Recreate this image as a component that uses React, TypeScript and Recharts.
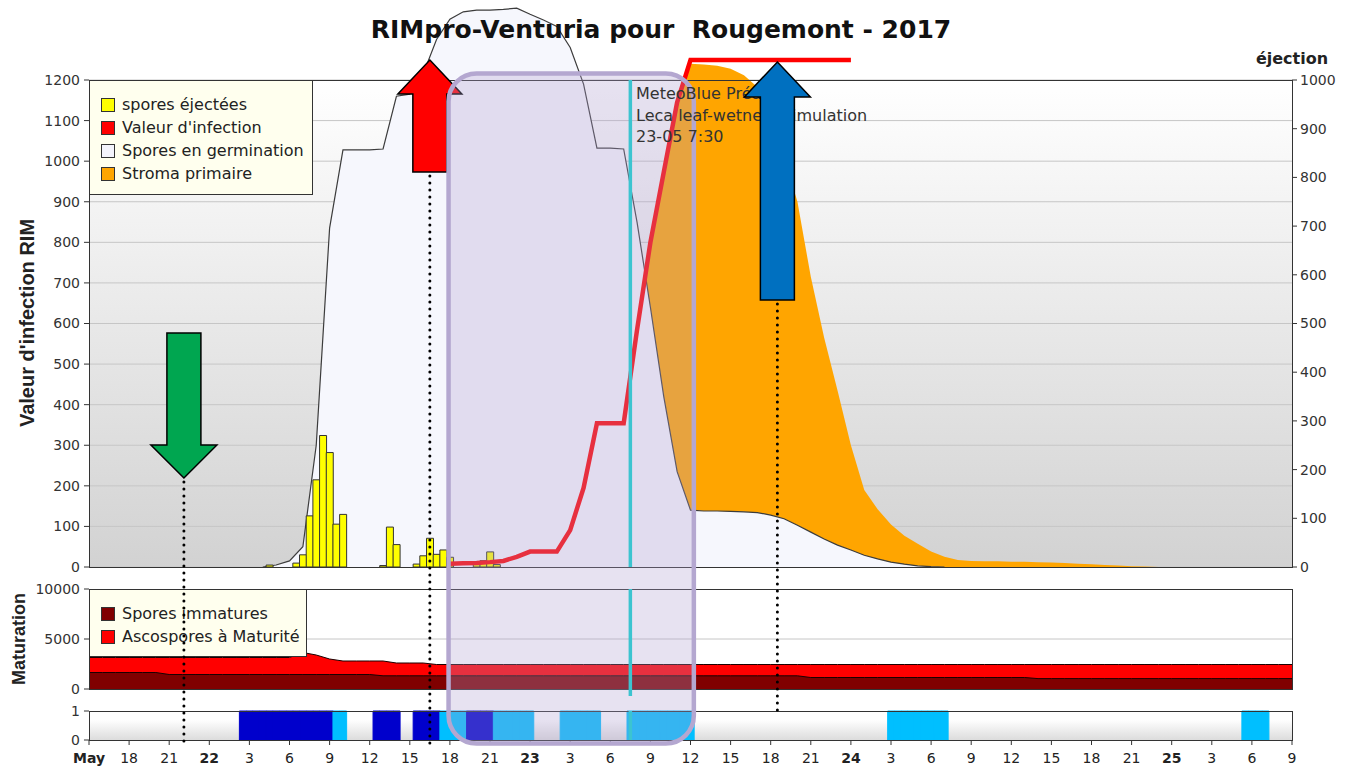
import React from "react";
import {
  ComposedChart,
  Area,
  Bar,
  Line,
  Cell,
  XAxis,
  YAxis,
  CartesianGrid,
  ReferenceLine,
} from "recharts";

const FONT = "DejaVu Sans, Verdana, sans-serif";
const BOLD_FONT = "Liberation Sans, Arial, sans-serif";

// time axis: hours counted from 21 May 15:00
const tickHours = [0, 3, 6, 9, 12, 15, 18, 21, 24, 27, 30, 33, 36, 39, 42, 45, 48, 51, 54, 57, 60, 63, 66, 69, 72, 75, 78, 81, 84, 87, 90];
const tickLabels = ["May", "18", "21", "22", "3", "6", "9", "12", "15", "18", "21", "23", "3", "6", "9", "12", "15", "18", "21", "24", "3", "6", "9", "12", "15", "18", "21", "25", "3", "6", "9"];
const dayLabels = ["May", "22", "23", "24", "25"];

const rimTicks = [0, 100, 200, 300, 400, 500, 600, 700, 800, 900, 1000, 1100, 1200];
const ejectionTicks = [0, 100, 200, 300, 400, 500, 600, 700, 800, 900, 1000];
const maturationTicks = [0, 5000, 10000];
const wetTicks = [0, 1];

// hourly values, index = hour
const germination = [
  null, null, null, null, null, null, null, null, null, null,
  null, null, null, 0, 5, 15, 50, 300, 835, 1028,
  1028, 1028, 1030, 1160, 1165, 1215, 1300, 1350, 1368, 1372,
  1372, 1374, 1377, 1362, 1348, 1332, 1280, 1190, 1032, 1032,
  1030, 850, 640, 420, 235, 140, 138, 138, 137, 136,
  134, 128, 119, 103, 86, 69, 54, 42, 29, 20,
  12, 7, 3, 1, 0, null, null, null, null, null,
  null, null, null, null, null, null, null, null, null, null,
  null, null, null, null, null, null, null, null, null, null,
  null,
];

const stromaPrimaire = [
  null, null, null, null, null, null, null, null, null, null,
  null, null, null, null, null, null, null, null, null, null,
  null, null, null, null, null, null, null, null, null, null,
  null, null, null, null, null, null, null, null, null, null,
  0, 560, 806, 975, 1145, 1240, 1238, 1235, 1228, 1212,
  1183, 1110, 1010, 900, 715, 565, 435, 300, 190, 142,
  105, 77, 57, 38, 25, 17, 15, 14, 14, 13,
  13, 12, 11, 10, 8, 7, 5, 4, 2, 1,
  0, null, null, null, null, null, null, null, null, null,
  null,
];

const valeurInfection = [
  null, null, null, null, null, null, null, null, null, null,
  null, null, null, null, null, null, null, null, null, null,
  null, null, null, null, null, null, null, 8, 9, 10,
  12, 15, 25, 38, 38, 38, 91, 195, 354, 354,
  354, 584, 800, 973, 1145, 1249, 1249, 1249, 1249, 1249,
  1249, 1249, 1249, 1249, 1249, 1249, 1249, 1249, null, null,
  null, null, null, null, null, null, null, null, null, null,
  null, null, null, null, null, null, null, null, null, null,
  null, null, null, null, null, null, null, null, null, null,
  null,
];

const sporesImmatures = [
  1650, 1650, 1650, 1650, 1650, 1650, 1450, 1450, 1450, 1450,
  1450, 1450, 1450, 1450, 1450, 1450, 1450, 1450, 1450, 1450,
  1450, 1450, 1320, 1320, 1320, 1320, 1320, 1320, 1320, 1320,
  1320, 1320, 1320, 1320, 1320, 1320, 1320, 1320, 1320, 1320,
  1320, 1320, 1320, 1320, 1320, 1320, 1320, 1320, 1320, 1320,
  1320, 1320, 1320, 1320, 1150, 1150, 1150, 1150, 1150, 1150,
  1150, 1150, 1150, 1150, 1150, 1150, 1150, 1150, 1150, 1150,
  1150, 1040, 1040, 1040, 1040, 1040, 1040, 1040, 1040, 1040,
  1040, 1040, 1040, 1040, 1040, 1040, 1040, 1040, 1040, 1040,
  1040,
];

const ascosporesMatures = [
  1500, 1500, 1500, 1500, 1500, 1500, 1700, 1700, 1700, 1700,
  1700, 1700, 1700, 1700, 1700, 1700, 2200, 1950, 1550, 1350,
  1350, 1350, 1480, 1280, 1280, 1280, 1130, 1130, 1130, 1130,
  1130, 1130, 1130, 1130, 1130, 1130, 1130, 1130, 1130, 1130,
  1130, 1130, 1130, 1130, 1130, 1130, 1130, 1130, 1130, 1130,
  1130, 1130, 1130, 1130, 1300, 1300, 1300, 1300, 1300, 1300,
  1300, 1300, 1300, 1300, 1300, 1300, 1300, 1300, 1300, 1300,
  1300, 1410, 1410, 1410, 1410, 1410, 1410, 1410, 1410, 1410,
  1410, 1410, 1410, 1410, 1410, 1410, 1410, 1410, 1410, 1410,
  1410,
];

// half-hourly spore ejections (right axis)
const sporeHours = [13.5, 15.5, 16, 16.5, 17, 17.5, 18, 18.5, 19, 22, 22.5, 23, 24.5, 25, 25.5, 26, 26.5, 27, 29, 29.5, 30, 30.5];
const sporeValues = [4, 8, 25, 105, 179, 270, 235, 88, 108, 3, 82, 46, 6, 23, 59, 26, 35, 20, 5, 13, 31, 5];

// wet periods (half-hour slots)
const wetStart = [11.5, 18.5, 21.5, 24.5, 26.5, 28.5, 30.5, 35.5, 40.5, 60, 86.5];
const wetEnd = [18, 19, 23, 26, 28, 30, 33, 38, 45, 64, 88];
const wetKind = ["pluie", "humectation", "pluie", "pluie", "humectation", "pluie", "humectation", "humectation", "humectation", "humectation", "humectation"];
const wetColors: Record<string, string> = { pluie: "#0000cc", humectation: "#00bfff" };

const W = 1354;
const H = 769;
const PLOT = { left: 89, right: 1292, top: 4, bottom: 740 };
const SPAN = 90;
const AXIS_W = 0.01;
const xOf = (h: number) => PLOT.left + (h * (PLOT.right - PLOT.left)) / SPAN;

// domain so that value v0 sits at pixel y0 and v1 at y1
function domainFor(v0: number, y0: number, v1: number, y1: number): [number, number] {
  const k = (v1 - v0) / (y0 - y1);
  return [v0 - (PLOT.bottom - y0) * k, v0 + (y0 - PLOT.top) * k];
}
const rimDomain = domainFor(0, 567, 1200, 80);
const ejectDomain = domainFor(0, 567, 1000, 80);
const matDomain = domainFor(0, 689, 10000, 589);
const wetDomain = domainFor(0, 740, 1, 711);

const rows = Array.from({ length: SPAN * 2 + 1 }, (_, i) => {
  const h = i / 2;
  const hr = i % 2 === 0 ? h : -1;
  const s = sporeHours.indexOf(h);
  const w = wetStart.findIndex((st, k) => h >= st && h <= wetEnd[k]);
  return {
    h,
    germination: hr >= 0 ? germination[hr] : null,
    stroma: hr >= 0 ? stromaPrimaire[hr] : null,
    infection: hr >= 0 ? valeurInfection[hr] : null,
    immatures: hr >= 0 ? sporesImmatures[hr] : null,
    maturite: hr >= 0 ? sporesImmatures[hr] + ascosporesMatures[hr] : null,
    spores: s >= 0 ? sporeValues[s] : null,
    wet: w >= 0 ? 1 : null,
    wetColor: w >= 0 ? wetColors[wetKind[w]] : "none",
  };
});

const tickStyle = { fontSize: 14, fill: "#333", fontFamily: FONT };

function TimeTick(props: any) {
  const { x, y, payload } = props;
  const i = tickHours.indexOf(payload.value);
  const label = i >= 0 ? tickLabels[i] : "";
  const bold = dayLabels.includes(label);
  return (
    <text x={x} y={y} dy="0.71em" textAnchor="middle" fontFamily={FONT} fontSize={14} fontWeight={bold ? 700 : 400} fill="#222">
      {label}
    </text>
  );
}

function LegendBox({ left, top, width, height, items }: { left: number; top: number; width: number; height: number; items: { label: string; color: string }[] }) {
  return (
    <div
      style={{
        position: "absolute", left, top, width, height, boxSizing: "border-box",
        background: "#ffffee", border: "1.5px solid #333", fontFamily: FONT, fontSize: 16, color: "#222",
        paddingTop: 12, paddingLeft: 11,
      }}
    >
      {items.map((it) => (
        <div key={it.label} style={{ display: "flex", alignItems: "center", height: 23 }}>
          <span style={{ width: 12, height: 12, background: it.color, border: "1px solid #333", marginRight: 7, flex: "none" }} />
          <span style={{ whiteSpace: "nowrap" }}>{it.label}</span>
        </div>
      ))}
    </div>
  );
}

function arrowPoints(cx: number, tip: number, base: number, end: number, head: number, shaft: number) {
  return [
    [cx, tip], [cx + head, base], [cx + shaft, base], [cx + shaft, end],
    [cx - shaft, end], [cx - shaft, base], [cx - head, base],
  ].map((p) => p.join(",")).join(" ");
}

function Overlay() {
  const dotted = { stroke: "#000", strokeWidth: 3, strokeDasharray: "0 7", strokeLinecap: "round" as const };
  const xg = xOf(7.1);
  const xr = xOf(25.5);
  const xb = xOf(51.5);
  const xc = xOf(40.5);
  const x1 = xOf(26.9);
  const x2 = xOf(45.25);
  return (
    <svg width={W} height={H} style={{ position: "absolute", left: 0, top: 0, pointerEvents: "none" }}>
      <g fill="none" stroke="#333" strokeWidth={1} shapeRendering="crispEdges">
        <rect x={89} y={80} width={1203} height={487} />
        <rect x={89} y={589} width={1203} height={100} />
        <rect x={89} y={711} width={1203} height={29} />
      </g>
      <text x={661} y={38} textAnchor="middle" fontFamily={FONT} fontWeight={700} fontSize={25} fill="#111" style={{ whiteSpace: "pre" }}>
        {"RIMpro-Venturia pour  Rougemont - 2017"}
      </text>
      <text transform="translate(34,323) rotate(-90)" textAnchor="middle" fontFamily={BOLD_FONT} fontWeight={700} fontSize={20} fill="#222">
        Valeur d'infection RIM
      </text>
      <text transform="translate(25,639) rotate(-90)" textAnchor="middle" fontFamily={BOLD_FONT} fontWeight={700} fontSize={18} fill="#222">
        Maturation
      </text>
      <text x={1292} y={64} textAnchor="middle" fontFamily={FONT} fontWeight={700} fontSize={16} fill="#222">
        éjection
      </text>
      <polygon points={arrowPoints(xr, 60, 94, 172, 32, 17)} fill="#ff0000" stroke="#000" strokeWidth={1.5} />
      <rect x={x1} y={73.5} width={x2 - x1} height={670} rx={28} ry={28} fill="#b0a0d0" fillOpacity={0.3} stroke="#b4a7d0" strokeWidth={4.5} />
      <g stroke="#3cc4d0" strokeWidth={3.5}>
        <line x1={xc} x2={xc} y1={80} y2={567} />
        <line x1={xc} x2={xc} y1={589} y2={696} />
        <line x1={xc} x2={xc} y1={711} y2={740} />
      </g>
      <g fontFamily={FONT} fontSize={16} fill="#333">
        <text x={636} y={98.5}>MeteoBlue Préalpes</text>
        <text x={636} y={120.5}>Leca leaf-wetness simulation</text>
        <text x={636} y={142}>23-05 7:30</text>
      </g>
      <line x1={xg} x2={xg} y1={482} y2={745} {...dotted} />
      <line x1={xr} x2={xr} y1={176} y2={745} {...dotted} />
      <line x1={xb} x2={xb} y1={304} y2={712} {...dotted} />
      <polygon points={arrowPoints(xg, 478, 445, 333, 33, 17)} fill="#00a650" stroke="#000" strokeWidth={1.5} />
      <polygon points={arrowPoints(xb, 62, 97, 300, 33, 17)} fill="#0070c0" stroke="#000" strokeWidth={1.5} />
    </svg>
  );
}

export default function App() {
  return (
    <div style={{ position: "absolute", left: 0, top: 0, width: W, height: H, background: "#fff", overflow: "hidden" }}>
      <div style={{ position: "absolute", left: 89, top: 80, width: 1203, height: 487, background: "linear-gradient(#ffffff, #d2d2d2)" }} />
      <div style={{ position: "absolute", left: 89, top: 589, width: 1203, height: 100, background: "#ffffff" }} />
      <div style={{ position: "absolute", left: 89, top: 711, width: 1203, height: 29, background: "linear-gradient(#ffffff 30%, #dcdcdc)" }} />
      <div style={{ position: "absolute", left: 0, top: 0 }}>
        <ComposedChart
          width={W}
          height={H}
          data={rows}
          margin={{ top: PLOT.top, right: W - PLOT.right - AXIS_W, bottom: 0, left: PLOT.left - 3 * AXIS_W }}
          barCategoryGap={0}
          barGap={0}
        >
          <XAxis xAxisId="t" dataKey="h" type="number" domain={[0, SPAN]} allowDataOverflow ticks={tickHours} interval={0}
            height={29} tickSize={5} tickMargin={8} axisLine={false} tickLine={{ stroke: "#333" }} tick={(p: any) => <TimeTick {...p} />} />
          <XAxis xAxisId="t2" dataKey="h" type="number" domain={[0, SPAN]} allowDataOverflow hide />
          <YAxis yAxisId="rim" orientation="left" type="number" domain={rimDomain} allowDataOverflow ticks={rimTicks} interval={0}
            width={AXIS_W} axisLine={false} tickLine={{ stroke: "#333" }} tickSize={5} tickMargin={4} tick={tickStyle} />
          <YAxis yAxisId="mat" orientation="left" type="number" domain={matDomain} allowDataOverflow ticks={maturationTicks} interval={0}
            width={AXIS_W} axisLine={false} tickLine={{ stroke: "#333" }} tickSize={5} tickMargin={4} tick={tickStyle} />
          <YAxis yAxisId="wet" orientation="left" type="number" domain={wetDomain} allowDataOverflow ticks={wetTicks} interval={0}
            width={AXIS_W} axisLine={false} tickLine={{ stroke: "#333" }} tickSize={5} tickMargin={4} tick={tickStyle} />
          <YAxis yAxisId="ej" orientation="right" type="number" domain={ejectDomain} allowDataOverflow ticks={ejectionTicks} interval={0}
            width={AXIS_W} axisLine={false} tickLine={{ stroke: "#333" }} tickSize={5} tickMargin={3} tick={tickStyle} />

          <CartesianGrid xAxisId="t" yAxisId="rim" vertical={false} syncWithTicks stroke="#c6c6c6" />
          <ReferenceLine xAxisId="t" yAxisId="mat" y={5000} stroke="#c6c6c6" />

          <Area xAxisId="t" yAxisId="rim" dataKey="stroma" name="Stroma primaire" type="linear" fill="#ffa500" fillOpacity={1}
            stroke="none" connectNulls dot={false} activeDot={false} isAnimationActive={false} />
          <Area xAxisId="t" yAxisId="rim" dataKey="germination" name="Spores en germination" type="linear" fill="#f6f7fd" fillOpacity={1}
            stroke="#3c3c3c" strokeWidth={1.2} connectNulls dot={false} activeDot={false} isAnimationActive={false} />
          <Bar xAxisId="t" yAxisId="ej" dataKey="spores" name="spores éjectées" fill="#ffff00" stroke="#333" strokeWidth={1} isAnimationActive={false} />
          <Line xAxisId="t" yAxisId="rim" dataKey="infection" name="Valeur d'infection" type="linear" stroke="#ff0000" strokeWidth={4.5}
            connectNulls dot={false} activeDot={false} isAnimationActive={false} />

          <Area xAxisId="t" yAxisId="mat" dataKey="maturite" name="Ascospores à Maturité" type="linear" fill="#ff0000" fillOpacity={1}
            stroke="#1a0000" strokeWidth={1} connectNulls dot={false} activeDot={false} isAnimationActive={false} />
          <Area xAxisId="t" yAxisId="mat" dataKey="immatures" name="Spores immatures" type="linear" fill="#800000" fillOpacity={1}
            stroke="#1a0000" strokeWidth={1} connectNulls dot={false} activeDot={false} isAnimationActive={false} />

          <Bar xAxisId="t2" yAxisId="wet" dataKey="wet" isAnimationActive={false}>
            {rows.map((r) => (
              <Cell key={r.h} fill={r.wetColor} stroke={r.wetColor} strokeWidth={1} />
            ))}
          </Bar>
        </ComposedChart>
      </div>
      <LegendBox
        left={89} top={80} width={224} height={115}
        items={[
          { label: "spores éjectées", color: "#ffff00" },
          { label: "Valeur d'infection", color: "#ff0000" },
          { label: "Spores en germination", color: "#f4f4fc" },
          { label: "Stroma primaire", color: "#ffa500" },
        ]}
      />
      <LegendBox
        left={89} top={589} width={218} height={68}
        items={[
          { label: "Spores immatures", color: "#800000" },
          { label: "Ascospores à Maturité", color: "#ff0000" },
        ]}
      />
      <Overlay />
    </div>
  );
}
